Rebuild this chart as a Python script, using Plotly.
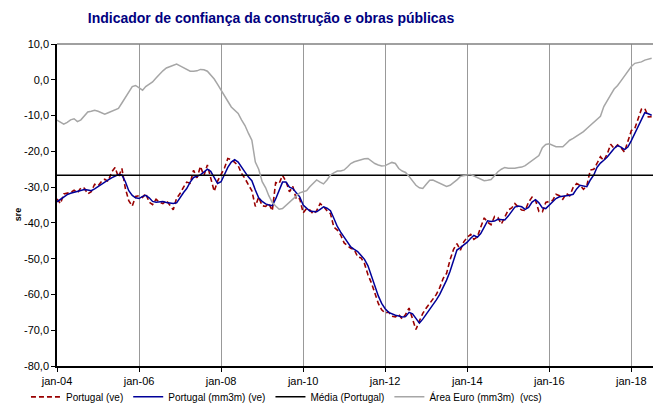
import pandas as pd
import plotly.graph_objects as go

# monthly, jan-2004 .. jul-2018
meses = pd.date_range("2004-01-01", periods=175, freq="MS")

portugal_ve = [
    -33.3, -34.6, -31.9, -31.8, -31.5, -30.9, -31.6, -30.2, -30.3, -31.9, -31.3, -29.2,
    -29.6, -28.4, -27.8, -28.4, -25.8, -24.5, -27.2, -24.8, -30.4, -33.8, -35.3, -32.6,
    -32.4, -32.9, -31.8, -34.2, -34.9, -33.4, -34.2, -34.6, -33.8, -35.0, -36.3, -33.1,
    -31.8, -30.0, -28.6, -28.9, -25.3, -27.4, -24.2, -26.8, -23.8, -27.5, -31.2, -28.3,
    -26.2, -24.6, -22.0, -22.3, -23.1, -24.0, -26.2, -27.6, -29.4, -31.0, -35.4, -32.8,
    -35.2, -35.4, -34.6, -36.6, -28.7, -29.0, -26.7, -28.4, -31.3, -29.8, -33.4, -33.2,
    -37.2, -36.0, -36.4, -37.5, -36.6, -34.6, -35.4, -36.6, -37.4, -41.2, -42.0, -43.4,
    -45.6, -46.4, -47.1, -47.5, -49.5, -49.8, -51.4, -54.5, -56.8, -59.6, -62.5, -64.3,
    -65.2, -64.9, -66.1, -66.3, -65.6, -66.9, -65.6, -63.8, -66.8, -69.8, -67.4, -65.3,
    -63.8, -62.4, -61.3, -60.0, -58.1, -55.5, -54.1, -50.3, -47.4, -45.8, -47.6, -45.3,
    -44.0, -43.2, -44.6, -43.9, -41.2, -38.6, -39.8, -40.5, -38.2, -38.5, -40.3, -38.3,
    -36.4, -35.8, -34.6, -35.6, -36.4, -36.5, -34.2, -32.8, -33.7, -36.8, -36.9, -34.3,
    -34.0, -33.7, -32.0, -32.4, -33.4, -31.8, -32.4, -30.1, -29.0, -29.5, -30.6, -29.6,
    -25.2, -25.0, -23.4, -21.5, -22.6, -20.7, -18.0, -19.2, -18.2, -19.0, -20.2, -17.1,
    -14.2, -13.6, -11.3, -8.2, -8.0, -10.4, -10.3,
]

portugal_mm3m = [
    -34.1, -33.4, -32.6, -32.1, -31.7, -31.4, -31.2, -30.9, -30.7, -30.8, -31.0, -30.5,
    -29.8, -29.1, -28.6, -28.0, -27.4, -26.9, -26.5, -26.6, -28.5, -31.0, -32.3, -33.0,
    -33.2, -32.6, -32.3, -33.0, -34.0, -34.2, -34.1, -34.0, -34.3, -34.4, -34.6, -34.4,
    -32.8, -31.5, -30.4, -28.6, -27.3, -27.0, -26.6, -25.8, -25.0, -25.6, -27.5, -29.0,
    -28.5, -26.3, -24.5, -23.0, -22.3, -23.0, -24.5, -25.8, -27.2, -28.2, -30.8, -33.0,
    -34.0, -34.7, -35.0, -35.2, -33.3, -30.8, -28.6, -28.6, -30.0, -30.4, -31.5, -32.7,
    -35.0, -36.0, -36.7, -36.8, -36.9, -36.2, -35.5, -35.9, -36.6, -38.7, -41.0, -42.6,
    -44.0, -45.4, -46.7, -47.4, -48.0, -49.1, -50.2, -52.0, -55.0, -57.8, -60.4, -62.5,
    -64.0, -65.0, -65.5, -65.8, -66.0, -66.3, -66.2, -65.0, -65.4, -66.8, -68.0, -66.9,
    -65.5, -64.4, -63.0, -61.5, -60.0, -58.0, -56.0, -53.5, -50.5, -47.6, -46.9, -46.2,
    -45.4, -44.3, -43.5, -44.0, -43.0, -41.2, -39.4, -39.6, -39.5, -39.0, -39.1, -39.2,
    -38.1, -36.8, -35.6, -35.3, -35.5, -36.2, -35.7, -34.2, -33.5, -34.4, -35.8, -36.0,
    -35.1, -34.0, -33.2, -32.7, -32.6, -32.5, -32.3, -32.0, -30.5, -29.5, -29.7, -29.9,
    -28.0, -26.6, -24.5, -23.3, -22.5, -21.6, -20.4, -19.2, -18.4, -18.8, -19.5, -18.8,
    -17.0, -15.0, -13.0, -11.0, -9.2, -9.5, -9.9,
]

area_euro_mm3m = [
    -11.3, -12.0, -12.4, -11.9, -11.2, -10.9, -11.7, -11.2, -10.2, -9.0, -8.8, -8.5,
    -8.8, -9.3, -9.6, -9.2, -8.8, -8.6, -8.0, -6.5, -5.0, -3.2, -1.9, -1.6,
    -2.2, -2.9, -1.9, -1.3, -0.6, 0.5, 1.6, 2.5, 3.3, 3.7, 4.0, 4.4,
    3.9, 3.3, 2.8, 2.4, 2.4, 2.5, 2.9, 2.8, 2.4, 1.4, 0.2, -1.3,
    -2.8, -4.4, -6.0, -7.6, -8.6, -9.4, -11.2, -12.8, -15.0, -16.9, -23.0, -25.0,
    -28.5, -30.2, -32.4, -34.3, -35.3, -36.2, -36.0, -35.1, -34.1, -33.2, -32.4, -31.6,
    -31.3, -31.0, -29.9, -29.0, -28.0, -28.6, -29.1, -28.0, -26.6, -26.0, -25.5, -25.5,
    -25.2, -24.3, -23.4, -22.9, -22.6, -22.3, -22.1, -22.0, -22.7, -23.4, -23.8, -24.1,
    -24.0, -23.6, -23.1, -23.4, -24.8, -25.5, -25.9, -27.0, -28.3, -29.5, -30.2, -30.4,
    -29.2, -28.1, -28.0, -28.5, -29.0, -29.4, -29.8, -29.5, -28.8, -28.0, -27.0, -26.7,
    -26.6, -26.5, -26.9, -27.3, -27.8, -28.2, -28.1, -27.9, -26.8, -25.7, -25.0, -24.5,
    -24.7, -24.8, -24.7, -24.5, -24.4, -24.0, -23.3, -22.6, -21.9, -21.2, -19.0, -18.1,
    -17.9, -18.3, -18.7, -18.7, -18.7, -17.8, -16.9, -16.4, -15.8, -15.3, -14.5, -13.6,
    -12.8, -11.9, -11.1, -10.2, -7.5, -5.6, -4.2, -2.6, -1.6, -0.3, 1.0, 2.5,
    3.7, 4.6, 4.8, 5.0, 5.5, 5.8, 6.0,
]

media_portugal = -26.7

x_ticks = pd.date_range("2004-01-01", "2018-01-01", freq="24MS")
x_labels = ["jan-04", "jan-06", "jan-08", "jan-10", "jan-12", "jan-14", "jan-16", "jan-18"]
y_ticks = [10, 0, -10, -20, -30, -40, -50, -60, -70, -80]
y_labels = ["10,0", "0,0", "-10,0", "-20,0", "-30,0", "-40,0", "-50,0", "-60,0", "-70,0", "-80,0"]

fig = go.Figure()
fig.add_trace(go.Scatter(x=meses, y=portugal_ve, name="Portugal (ve)", mode="lines",
                         line=dict(color="#990000", width=1.6, dash="5px,3px")))
fig.add_trace(go.Scatter(x=meses, y=portugal_mm3m, name="Portugal (mm3m) (ve)", mode="lines",
                         line=dict(color="#000099", width=1.5)))
fig.add_trace(go.Scatter(x=[pd.Timestamp("2004-01-01"), pd.Timestamp("2018-07-15")],
                         y=[media_portugal, media_portugal], name="Média (Portugal)", mode="lines",
                         line=dict(color="#000000", width=1.5)))
fig.add_trace(go.Scatter(x=meses, y=area_euro_mm3m, name="Área Euro (mm3m)  (vcs)", mode="lines",
                         line=dict(color="#A6A6A6", width=1.5)))

# top border of plot area
fig.add_shape(type="line", xref="paper", yref="paper", x0=0, x1=1, y0=1, y1=1,
              line=dict(color="#808080", width=1.5))

fig.add_annotation(text="<b>sre</b>", xref="paper", yref="paper", x=-0.078, y=0.47,
                   textangle=-90, showarrow=False, font=dict(size=9, color="#000000"))

fig.update_layout(
    width=653, height=407,
    margin=dict(l=57, r=0, t=44, b=41),
    paper_bgcolor="white", plot_bgcolor="white",
    font=dict(family="Liberation Sans, Arial, sans-serif", size=11, color="#000000"),
    title=dict(text="<b>Indicador de confiança da construção e obras públicas</b>",
               font=dict(family="Liberation Sans, Arial, sans-serif", size=14, color="#000080"),
               x=0.415, xanchor="center", y=0.955, yanchor="middle"),
    showlegend=True,
    legend=dict(orientation="h", x=0.385, xanchor="center", yref="container", y=0.025,
                yanchor="middle", font=dict(size=10), bgcolor="rgba(0,0,0,0)",
                itemwidth=30, tracegroupgap=0),
    xaxis=dict(range=[pd.Timestamp("2004-01-01"), pd.Timestamp("2018-07-13")],
               tickvals=x_ticks, ticktext=x_labels, showgrid=True, gridcolor="#999999", gridwidth=1,
               showline=True, linecolor="#000000", linewidth=1.5, ticks="outside", ticklen=4,
               tickcolor="#000000", zeroline=False, automargin=False),
    yaxis=dict(range=[-80, 10], tickvals=y_ticks, ticktext=y_labels, showgrid=False,
               showline=True, linecolor="#000000", linewidth=1.5, ticks="outside", ticklen=4,
               tickcolor="#000000", zeroline=False, automargin=False),
)

fig.write_html("out.html", config={"displayModeBar": False},
               post_script="document.body.style.margin='0';")
